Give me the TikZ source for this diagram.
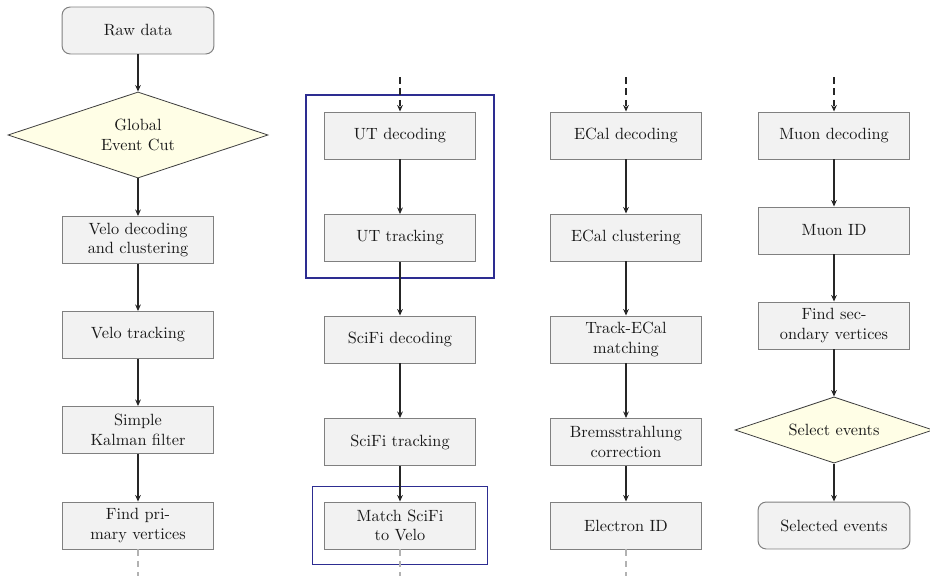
\documentclass[tikz,border=0pt]{standalone}
\usetikzlibrary{shapes.geometric,arrows.meta,fit}

\definecolor{groupblue}{RGB}{45,45,145}

\tikzset{
    procbox/.style={draw=black!50, fill=black!5, text=black!90, line width=0.6pt,
        minimum width=3.28cm, minimum height=1.015cm, align=center, inner sep=2pt},
    termbox/.style={procbox, rounded corners=5pt},
    decision/.style={diamond, draw=black!75, fill=yellow!10, text=black!90, line width=0.5pt,
        aspect=3, inner sep=0pt, align=center},
    flow/.style={draw=black!85, line width=0.8pt, -{Stealth[length=4pt,width=3.5pt]}},
    fromabove/.style={flow, dashed, dash pattern=on 4pt off 3pt},
    tobelow/.style={draw=black!30, line width=0.8pt, dash pattern=on 4pt off 3pt},
    groupbox/.style={draw=groupblue, line width=1.2pt}
}

\begin{document}
\begin{tikzpicture}[x=0.0216cm, y=-0.0216cm]
    \useasboundingbox (0,0) rectangle (930,576);

    % column 1
    \node[termbox] (raw) at (138,30.5) {Raw data};
    \node[decision, minimum width=5.62cm, minimum height=1.86cm] (gec) at (138,135) {Global\\Event Cut};
    \node[procbox] (velodec) at (138,240) {Velo decoding\\and clustering};
    \node[procbox] (velotrk) at (138,335) {Velo tracking};
    \node[procbox] (kalman) at (138,430) {Simple\\Kalman filter};
    \node[procbox] (pv) at (138,525.5) {Find pri-\\mary vertices};

    % column 2
    \node[procbox] (utdec) at (400,135.5) {UT decoding};
    \node[procbox] (uttrk) at (400,238) {UT tracking};
    \node[procbox] (scifidec) at (400,339.5) {SciFi decoding};
    \node[procbox] (scifitrk) at (400,442) {SciFi tracking};
    \node[procbox] (match) at (400,525.5) {Match SciFi\\to Velo};

    % column 3
    \node[procbox] (ecaldec) at (626,135.5) {ECal decoding};
    \node[procbox] (ecalclu) at (626,237.5) {ECal clustering};
    \node[procbox] (trkecal) at (626,339.5) {Track-ECal\\matching};
    \node[procbox] (brems) at (626,442) {Bremsstrahlung\\correction};
    \node[procbox] (eid) at (626,525.5) {Electron ID};

    % column 4
    \node[procbox] (muondec) at (834,135.5) {Muon decoding};
    \node[procbox] (muonid) at (834,230.5) {Muon ID};
    \node[procbox] (sv) at (834,325.5) {Find sec-\\ondary vertices};
    \node[decision, minimum width=4.28cm, minimum height=1.43cm] (sel) at (834,430) {Select events};
    \node[termbox] (selected) at (834,525.5) {Selected events};

    % groups
    \node[groupbox, fit=(utdec)(uttrk), inner xsep=0.39cm, inner ysep=0.35cm] (utgroup) {};
    \node[groupbox, line width=0.6pt, fit=(match), inner xsep=0.23cm, inner ysep=0.33cm] (matchgroup) {};

    % open ends
    \coordinate (utin) at (400,77);
    \coordinate (ecalin) at (626,77);
    \coordinate (muonin) at (834,77);
    \coordinate (pvout) at (138,576);
    \coordinate (matchout) at (400,576);
    \coordinate (eidout) at (626,576);

    % arrows
    \draw[flow] (raw) -- (gec);
    \draw[flow] (gec) -- (velodec);
    \draw[flow] (velodec) -- (velotrk);
    \draw[flow] (velotrk) -- (kalman);
    \draw[flow] (kalman) -- (pv);

    \draw[flow] (utdec) -- (uttrk);
    \draw[flow] (uttrk) -- (scifidec);
    \draw[flow] (scifidec) -- (scifitrk);
    \draw[flow] (scifitrk) -- (match);

    \draw[flow] (ecaldec) -- (ecalclu);
    \draw[flow] (ecalclu) -- (trkecal);
    \draw[flow] (trkecal) -- (brems);
    \draw[flow] (brems) -- (eid);

    \draw[flow] (muondec) -- (muonid);
    \draw[flow] (muonid) -- (sv);
    \draw[flow] (sv) -- (sel);
    \draw[flow] (sel) -- (selected);

    \draw[fromabove] (utin) -- (utdec);
    \draw[fromabove] (ecalin) -- (ecaldec);
    \draw[fromabove] (muonin) -- (muondec);

    \draw[tobelow] (pv) -- (pvout);
    \draw[tobelow] (match) -- (matchout);
    \draw[tobelow] (eid) -- (eidout);
\end{tikzpicture}
\end{document}
